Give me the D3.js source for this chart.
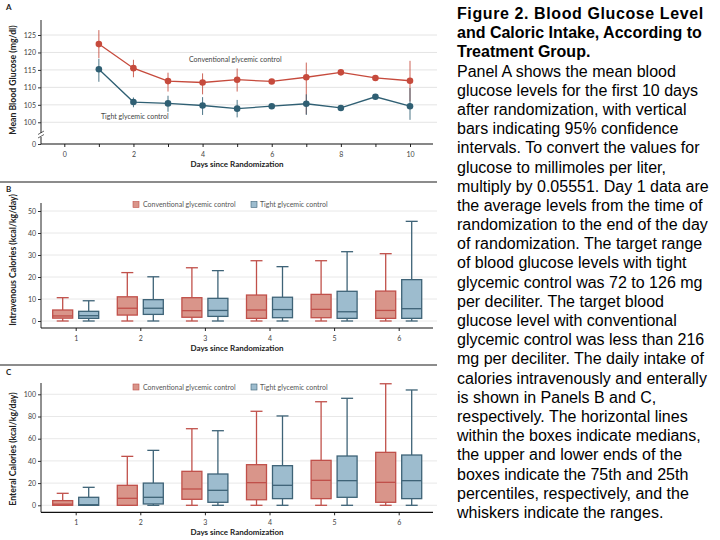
<!DOCTYPE html>
<html>
<head>
<meta charset="utf-8">
<script src="https://cdn.jsdelivr.net/npm/d3@7"></script>
<style>
body { margin:0; background:#fff; }
svg text { font-family: "Lato", "Open Sans", sans-serif; }
</style>
</head>
<body>
<div id="chart"></div>
<script>
// panel A: mean glucose by day
let days = [1,2,3,4,5,6,7,8,9,10];
let convMean = [122.4,115.5,111.8,111.4,112.2,111.7,112.9,114.3,112.7,111.9];
let convLo   = [118.4,112.9,108.8,108.0,108.8,111.0,102.3,113.7,112.0,106.0];
let convHi   = [126.4,117.9,114.2,114.0,115.4,112.4,117.1,114.9,113.4,117.6];
let tightMean = [115.2,105.8,105.4,104.8,103.9,104.6,105.3,104.1,107.3,104.6];
let tightLo   = [111.6,104.3,103.0,102.1,101.4,104.0,102.1,103.6,106.7,100.7];
let tightHi   = [118.2,107.1,107.6,107.2,106.4,105.2,108.0,104.6,107.9,109.8];
let yTicksA = [0,100,105,110,115,120,125];

// panels B and C: box plots, [min, q1, median, q3, max]
let boxDays = [1,2,3,4,5,6];
let ivConv = [[0,1.3,2.3,5,10.6],[0,2.7,5.8,11,22],[0,1.7,4.7,10.6,24.2],[0,1.2,5,11.8,27.4],[0,1.5,5.3,12.1,27.4],[0,1.2,4.8,13.6,30.6]];
let ivTight = [[0,1.2,2.4,4.4,9.2],[0,3,5.8,9.7,20.1],[0,2.1,4.8,10.3,22.9],[0,1.5,5.2,10.8,24.7],[0,1.2,4.2,13.5,31.5],[0,1.2,5.6,18.8,45.3]];
let enConv = [[0,0,1,4.2,10.8],[0,0,6.3,18,44.1],[0,5.4,14.7,30.6,69],[0,5,20.4,36.6,84.7],[0,6,22.5,40.5,93.3],[0,2.7,20.7,47.7,109.5]];
let enTight = [[0,0,0.5,7.2,16.2],[0,1.2,7.2,20,49.5],[0,2.7,13.5,28.2,67.2],[0,6,18,35.7,80.5],[0,7.2,22.2,44.4,96.4],[0,6,22.2,45.3,103.9]];
let yTicksB = [0,10,20,30,40,50];
let yTicksC = [0,20,40,60,80,100];

let redLine = "#c64a3c", tealLine = "#2f5f73";
let redFill = "#d9958a", tealFill = "#9dbcce";
let redStroke = "#c0504a", tealStroke = "#3e6377";

let svg = d3.select("#chart").append("svg").attr("width",720).attr("height",540);

function ylab(txt, cx, cy) {
  svg.append("text").attr("transform","translate("+cx+","+cy+") rotate(-90)")
    .attr("text-anchor","middle").style("font-size","8.7px").style("font-weight","bold")
    .attr("fill","#222").text(txt);
}
function xlab(cy) {
  svg.append("text").attr("x",237).attr("y",cy).attr("text-anchor","middle")
    .style("font-size","8px").style("font-weight","bold").attr("fill","#222")
    .text("Days since Randomization");
}
function letter(t, y) {
  svg.append("text").attr("x",6).attr("y",y).style("font-size","8px")
    .style("font-weight","bold").attr("fill","#222").text(t);
}

/******** Panel A ********/
let xA = d3.scaleLinear().domain([0,10]).range([64.3,410]);
let yA = d3.scaleLinear().domain([0,97.5,125]).range([144,131,35]);
let gA = svg.append("g");
gA.selectAll(".grid").data(yTicksA.filter(d => d > 0)).enter().append("line")
  .attr("x1",41).attr("x2",437).attr("y1",d => yA(d)).attr("y2",d => yA(d))
  .attr("stroke","#ddd").attr("stroke-width",0.8);
let axA = gA.append("g").attr("transform","translate(41,0)")
  .call(d3.axisLeft(yA).tickValues(yTicksA).tickSize(3).tickPadding(2));
axA.select(".domain").remove();
axA.selectAll("text").style("font-size","7px").attr("fill","#444");
axA.selectAll("line").attr("stroke","#333");
gA.append("line").attr("x1",41).attr("x2",41).attr("y1",20).attr("y2",133).attr("stroke","#222");
gA.append("line").attr("x1",41).attr("x2",41).attr("y1",137).attr("y2",144).attr("stroke","#222");
gA.append("line").attr("x1",38).attr("x2",44).attr("y1",134.5).attr("y2",131).attr("stroke","#222").attr("stroke-width",0.7);
gA.append("line").attr("x1",38).attr("x2",44).attr("y1",138).attr("y2",134.5).attr("stroke","#222").attr("stroke-width",0.7);
let bxA = gA.append("g").attr("transform","translate(0,144)")
  .call(d3.axisBottom(xA).ticks(10).tickSize(3).tickPadding(5).tickFormat(d => d % 2 == 0 ? d : ""));
bxA.select(".domain").remove();
bxA.selectAll("text").style("font-size","7px").attr("fill","#444");
bxA.selectAll("line").attr("stroke","#222");
gA.append("line").attr("x1",41).attr("x2",433).attr("y1",144).attr("y2",144).attr("stroke","#111").attr("stroke-width",1.2);

function series(mean, lo, hi, col) {
  gA.selectAll(null).data(days).enter().append("line")
    .attr("x1",(d,i) => xA(d)).attr("x2",(d,i) => xA(d))
    .attr("y1",(d,i) => yA(lo[i])).attr("y2",(d,i) => yA(hi[i]))
    .attr("stroke",col).attr("stroke-width",1).attr("opacity",0.85);
  let line = d3.line().x((d,i) => xA(days[i])).y(d => yA(d));
  gA.append("path").datum(mean).attr("d",line).attr("fill","none")
    .attr("stroke",col).attr("stroke-width",1.3);
  gA.selectAll(null).data(mean).enter().append("circle")
    .attr("cx",(d,i) => xA(days[i])).attr("cy",d => yA(d)).attr("r",3.3).attr("fill",col);
}
series(convMean, convLo, convHi, redLine);
series(tightMean, tightLo, tightHi, tealLine);
gA.append("text").attr("x",189).attr("y",62).style("font-size","7px").attr("fill","#444")
  .text("Conventional glycemic control");
gA.append("text").attr("x",101).attr("y",118.5).style("font-size","7px").attr("fill","#444")
  .text("Tight glycemic control");
letter("A",10);
ylab("Mean Blood Glucose (mg/dl)",16,80);
xlab(167);

svg.append("line").attr("x1",0).attr("x2",437).attr("y1",182).attr("y2",182).attr("stroke","#666").attr("stroke-width",1.3);
svg.append("line").attr("x1",0).attr("x2",437).attr("y1",365).attr("y2",365).attr("stroke","#666").attr("stroke-width",1.3);

/******** Panels B and C ********/
let xB = d3.scalePoint().domain(boxDays).range([75.7,398.7]);

function boxPanel(conv, tight, yTicks, yS, axisY, topY, legY) {
  let g = svg.append("g");
  g.selectAll(null).data(yTicks).enter().append("line")
    .attr("x1",41).attr("x2",437).attr("y1",d => yS(d)).attr("y2",d => yS(d))
    .attr("stroke","#e2e2e2").attr("stroke-width",0.8);
  let ax = g.append("g").attr("transform","translate(41,0)")
    .call(d3.axisLeft(yS).tickValues(yTicks).tickSize(3).tickPadding(2));
  ax.select(".domain").remove();
  ax.selectAll("text").style("font-size","7px").attr("fill","#444");
  ax.selectAll("line").attr("stroke","#333");
  g.append("line").attr("x1",41).attr("x2",41).attr("y1",topY).attr("y2",axisY).attr("stroke","#222");
  let bx = g.append("g").attr("transform","translate(0,"+axisY+")")
    .call(d3.axisBottom(xB).tickSize(3).tickPadding(5));
  bx.select(".domain").remove();
  bx.selectAll("text").style("font-size","7px").attr("fill","#444");
  bx.selectAll("line").attr("stroke","#222");
  g.append("line").attr("x1",41).attr("x2",433).attr("y1",axisY).attr("y2",axisY).attr("stroke","#111").attr("stroke-width",1.2);

  function boxes(data, off, fill, stroke) {
    let w = 20;
    data.forEach((b, i) => {
      let cx = xB(boxDays[i]) + off;
      g.append("line").attr("x1",cx).attr("x2",cx).attr("y1",yS(b[4])).attr("y2",yS(b[3]))
        .attr("stroke",stroke).attr("stroke-width",1.3);
      g.append("line").attr("x1",cx).attr("x2",cx).attr("y1",yS(b[1])).attr("y2",yS(b[0]))
        .attr("stroke",stroke).attr("stroke-width",1.3);
      g.append("line").attr("x1",cx-6).attr("x2",cx+6).attr("y1",yS(b[4])).attr("y2",yS(b[4]))
        .attr("stroke",stroke).attr("stroke-width",1.3);
      g.append("line").attr("x1",cx-6).attr("x2",cx+6).attr("y1",yS(b[0])).attr("y2",yS(b[0]))
        .attr("stroke",stroke).attr("stroke-width",1.3);
      g.append("rect").attr("x",cx-w/2).attr("y",yS(b[3])).attr("width",w)
        .attr("height",Math.max(yS(b[1])-yS(b[3]),0.5))
        .attr("fill",fill).attr("stroke",stroke).attr("stroke-width",1.3);
      g.append("line").attr("x1",cx-w/2).attr("x2",cx+w/2).attr("y1",yS(b[2])).attr("y2",yS(b[2]))
        .attr("stroke",stroke).attr("stroke-width",1.3);
    });
  }
  boxes(conv, -13, redFill, redStroke);
  boxes(tight, 13, tealFill, tealStroke);

  g.append("rect").attr("x",133).attr("y",legY-3).attr("width",6).attr("height",6)
    .attr("fill",redFill).attr("stroke",redStroke).attr("stroke-width",0.6);
  g.append("text").attr("x",143).attr("y",legY+2.5).style("font-size","7px").attr("fill","#555")
    .text("Conventional glycemic control");
  g.append("rect").attr("x",251).attr("y",legY-3).attr("width",6).attr("height",6)
    .attr("fill",tealFill).attr("stroke",tealStroke).attr("stroke-width",0.6);
  g.append("text").attr("x",260).attr("y",legY+2.5).style("font-size","7px").attr("fill","#555")
    .text("Tight glycemic control");
}

let yB = d3.scaleLinear().domain([0,50]).range([321,211]);
boxPanel(ivConv, ivTight, yTicksB, yB, 328, 203, 204.5);
letter("B",192);
ylab("Intravenous Calories (kcal/kg/day)",16,260);
xlab(351);

let yC = d3.scaleLinear().domain([0,100]).range([505.3,394.3]);
boxPanel(enConv, enTight, yTicksC, yC, 512.3, 383, 387);
letter("C",375);
ylab("Enteral Calories (kcal/kg/day)",16,449);
xlab(535);

/******** caption ********/
let capTitle = ["Figure 2. Blood Glucose Level","and Caloric Intake, According to","Treatment Group."];
let capBody = ["Panel A shows the mean blood","glucose levels for the first 10 days","after randomization, with vertical",
  "bars indicating 95% confidence","intervals. To convert the values for","glucose to millimoles per liter,",
  "multiply by 0.05551. Day 1 data are","the average levels from the time of","randomization to the end of the day",
  "of randomization. The target range","of blood glucose levels with tight","glycemic control was 72 to 126 mg",
  "per deciliter. The target blood","glucose level with conventional","glycemic control was less than 216",
  "mg per deciliter. The daily intake of","calories intravenously and enterally","is shown in Panels B and C,",
  "respectively. The horizontal lines","within the boxes indicate medians,","the upper and lower ends of the",
  "boxes indicate the 75th and 25th","percentiles, respectively, and the","whiskers indicate the ranges."];
let cap = svg.append("g");
capTitle.concat(capBody).forEach((t, i) => {
  cap.append("text").attr("x",457).attr("y",19 + i*19.19)
    .style("font-family","'Liberation Sans', Arial, sans-serif").style("font-size","16px")
    .style("font-weight", i < 3 ? "bold" : "normal")
    .style("letter-spacing", i == 0 ? "0.6px" : "0px")
    .attr("fill","#000").text(t);
});
</script>
</body>
</html>
